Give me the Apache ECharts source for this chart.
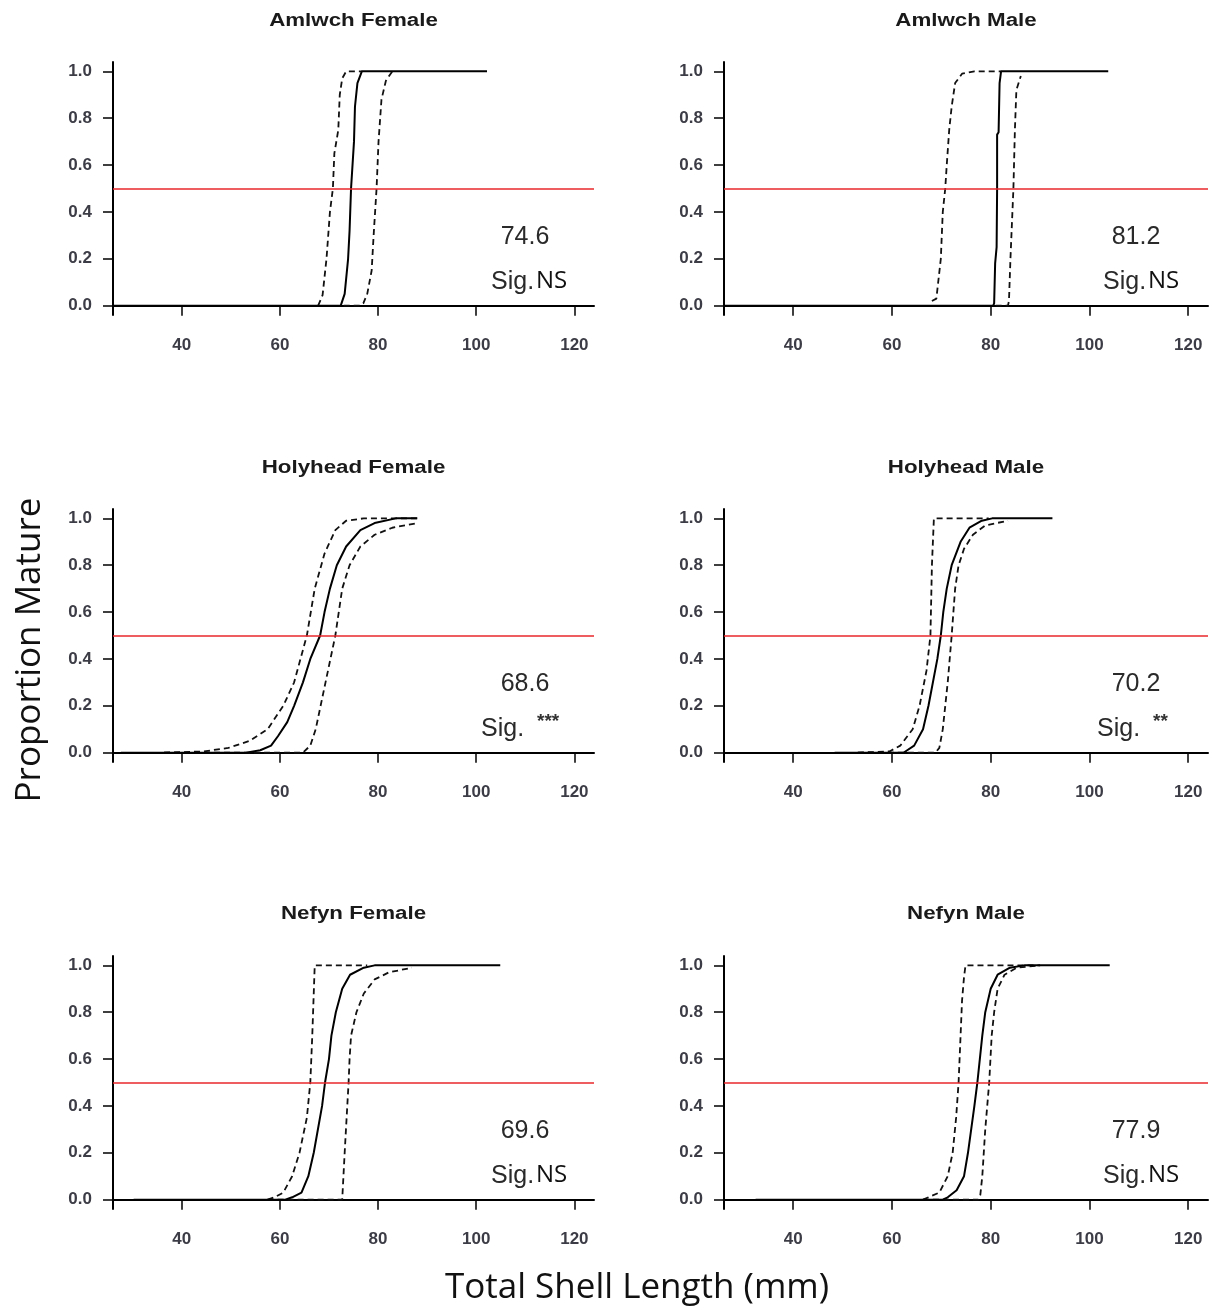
<!DOCTYPE html>
<html>
<head>
<meta charset="utf-8">
<script src="https://cdn.jsdelivr.net/npm/echarts@6/dist/echarts.min.js"></script>
<style>
html,body{margin:0;padding:0;background:#fff;}
#chart{width:1212px;height:1311px;}
</style>
</head>
<body>
<div id="chart"></div>
<script>
// ---- Data ----
const panelTitles = ['Amlwch Female', 'Amlwch Male', 'Holyhead Female', 'Holyhead Male', 'Nefyn Female', 'Nefyn Male'];
const l50Values = ['74.6', '81.2', '68.6', '70.2', '69.6', '77.9'];
const sigLabels = ['NS', 'NS', '***', '**', 'NS', 'NS'];
const xTickValues = [40, 60, 80, 100, 120];
const yTickValues = [0, 0.2, 0.4, 0.6, 0.8, 1.0];

// [length, proportion] pairs: fitted curve (fit), lower CI (lo), upper CI (hi)
const amlwchFemaleFit = [[26,0],[72.4,0],[73.2,0.05],[73.9,0.2],[74.2,0.32],[74.5,0.5],[75.1,0.7],[75.3,0.85],[75.8,0.95],[76.7,1],[102.2,1]];
const amlwchFemaleLo  = [[67.8,0],[68.7,0.045],[69.5,0.2],[70.2,0.4],[70.8,0.5],[71.1,0.65],[71.9,0.75],[72.2,0.9],[72.7,0.97],[73.5,1],[76.7,1]];
const amlwchFemaleHi  = [[73,0],[76.4,0],[77,0.01],[77.8,0.05],[78.7,0.15],[79.1,0.3],[79.7,0.5],[80.1,0.7],[80.7,0.88],[81.6,0.96],[82.9,1]];

const amlwchMaleFit = [[26,0],[80.5,0],[80.7,0.01],[80.9,0.18],[81.2,0.25],[81.3,0.5],[81.3,0.73],[81.6,0.74],[81.8,0.95],[82.1,1],[103.8,1]];
const amlwchMaleLo  = [[68.1,0.02],[69.0,0.03],[69.9,0.2],[70.3,0.4],[70.8,0.5],[71.1,0.6],[71.6,0.75],[72.1,0.85],[72.8,0.95],[74.2,0.99],[76.7,1],[82.1,1]];
const amlwchMaleHi  = [[81,0],[83.5,0],[83.7,0.02],[84.0,0.2],[84.6,0.5],[84.9,0.75],[85.2,0.92],[86.1,0.98]];

const holyheadFemaleFit = [[27.6,0],[53.1,0],[56.0,0.01],[58.2,0.03],[59.6,0.07],[61.5,0.13],[62.9,0.2],[64.7,0.3],[66.2,0.4],[68.2,0.5],[69.1,0.6],[70.2,0.7],[71.6,0.8],[73.5,0.88],[76.4,0.95],[79.3,0.98],[83.6,1],[88.0,1]];
const holyheadFemaleLo  = [[36.4,0],[44.4,0.005],[49.5,0.02],[53.8,0.05],[57.5,0.1],[60.7,0.2],[62.9,0.3],[65.5,0.5],[67.1,0.7],[69.1,0.85],[71.3,0.95],[73.5,0.99],[77.1,1],[88.0,1]];
const holyheadFemaleHi  = [[36.4,0],[64.7,0],[66.2,0.03],[67.3,0.1],[69.3,0.3],[71.3,0.5],[72.7,0.7],[74.2,0.8],[76.4,0.88],[79.3,0.93],[82.9,0.96],[88.0,0.98]];

const holyheadMaleFit = [[48.4,0],[62.4,0],[63.1,0.01],[64.5,0.03],[66.3,0.1],[67.4,0.2],[69.2,0.4],[69.9,0.5],[70.4,0.6],[71.1,0.7],[72.1,0.8],[73.9,0.9],[75.7,0.96],[78.2,0.99],[80.3,1],[92.5,1]];
const holyheadMaleLo  = [[53.1,0],[59.5,0.005],[61.7,0.03],[64.2,0.1],[65.6,0.2],[67.0,0.35],[67.8,0.5],[68.1,0.8],[68.5,1],[79.6,1]];
const holyheadMaleHi  = [[53.1,0],[68.8,0],[69.6,0.02],[70.3,0.1],[71.3,0.3],[72.1,0.5],[72.8,0.7],[73.5,0.8],[74.6,0.87],[76.4,0.93],[78.9,0.97],[83.5,0.99]];

const nefynFemaleFit = [[30.2,0],[61.1,0],[62.5,0.01],[64.4,0.03],[65.8,0.1],[66.9,0.2],[68.6,0.4],[69.2,0.5],[70.0,0.6],[70.5,0.7],[71.4,0.8],[72.7,0.9],[74.3,0.96],[77.1,0.99],[79.3,1],[104.9,1]];
const nefynFemaleLo  = [[57.5,0],[58.9,0.01],[60.7,0.03],[62.5,0.1],[64.0,0.2],[65.5,0.35],[66.2,0.5],[66.6,0.7],[67.1,1],[77.8,1]];
const nefynFemaleHi  = [[57.5,0],[72.7,0],[73.2,0.2],[74.0,0.5],[74.2,0.6],[74.5,0.7],[75.6,0.8],[77.1,0.88],[79.3,0.94],[82.2,0.97],[86.9,0.99]];

const nefynMaleFit = [[32.4,0],[70.3,0],[71.3,0.01],[73.1,0.04],[74.6,0.1],[75.4,0.2],[76.7,0.4],[77.3,0.5],[77.8,0.6],[78.3,0.7],[78.9,0.8],[80.0,0.9],[81.4,0.96],[83.9,0.99],[86.8,1],[104.1,1]];
const nefynMaleLo  = [[66.3,0],[67.4,0.01],[69.6,0.03],[71.3,0.1],[72.3,0.2],[73.0,0.35],[73.5,0.5],[73.9,0.7],[74.2,0.85],[74.6,0.95],[74.9,1],[90.0,1]];
const nefynMaleHi  = [[66.3,0],[77.5,0],[77.9,0.02],[78.3,0.1],[78.9,0.3],[79.7,0.5],[80.2,0.7],[80.7,0.8],[81.4,0.9],[82.8,0.96],[85.3,0.99],[90.0,1]];

const panelCurves = [
  [amlwchFemaleFit, amlwchFemaleLo, amlwchFemaleHi],
  [amlwchMaleFit, amlwchMaleLo, amlwchMaleHi],
  [holyheadFemaleFit, holyheadFemaleLo, holyheadFemaleHi],
  [holyheadMaleFit, holyheadMaleLo, holyheadMaleHi],
  [nefynFemaleFit, nefynFemaleLo, nefynFemaleHi],
  [nefynMaleFit, nefynMaleLo, nefynMaleHi]
];

// ---- Layout ----
const colLeft = [113, 724];
const colWidth = [481, 484];
const rowTop = [62, 509, 956];
const gridH = 253;
const titleCY = [21, 468, 914];

const grids = [], xAxes = [], yAxes = [], series = [], graphics = [];
const axisFont = { fontFamily: 'Liberation Sans, Arial, sans-serif', fontSize: 17, fontWeight: 'bold', color: '#3c3c46' };

for (let i = 0; i < 6; i++) {
  const c = i % 2, r = Math.floor(i / 2);
  grids.push({ left: colLeft[c], top: rowTop[r], width: colWidth[c], height: gridH, containLabel: false });
  xAxes.push({
    type: 'value', gridIndex: i, min: 26, max: 124,
    axisLine: { show: true, lineStyle: { color: '#000', width: 2 } },
    axisTick: { show: true, length: 10, lineStyle: { color: '#000', width: 1.5 }, customValues: xTickValues },
    axisLabel: Object.assign({ margin: 22, customValues: xTickValues }, axisFont),
    splitLine: { show: false }
  });
  yAxes.push({
    type: 'value', gridIndex: i, min: -0.04, max: 1.04,
    axisLine: { show: true, lineStyle: { color: '#000', width: 2 } },
    axisTick: { show: true, length: 10, lineStyle: { color: '#000', width: 1.5 }, customValues: yTickValues },
    axisLabel: Object.assign({ margin: 21, customValues: yTickValues, formatter: v => v.toFixed(1) }, axisFont),
    splitLine: { show: false }
  });
  const [fit, lo, hi] = panelCurves[i];
  series.push({
    type: 'line', xAxisIndex: i, yAxisIndex: i, data: fit, showSymbol: false, silent: true,
    lineStyle: { color: '#000', width: 2 }, z: 3,
    markLine: { silent: true, symbol: 'none', label: { show: false },
      lineStyle: { color: '#e8282b', width: 1.6, type: 'solid' }, data: [{ yAxis: 0.5 }] }
  });
  [lo, hi].forEach(d => series.push({
    type: 'line', xAxisIndex: i, yAxisIndex: i, data: d, showSymbol: false, silent: true,
    lineStyle: { color: '#111', width: 1.8, type: [6, 4] }, z: 2
  }));

  const cx = colLeft[c] + colWidth[c] / 2;
  graphics.push({ type: 'text', x: cx, y: titleCY[r], scaleX: 1.24, scaleY: 1,
    style: { text: panelTitles[i], font: 'bold 18px "Liberation Sans", Arial, sans-serif', fill: '#1a1a1a',
      textAlign: 'center', textVerticalAlign: 'middle' } });

  const ax = c === 0 ? 525 : 1136;
  const valY = rowTop[r] + 175;
  graphics.push({ type: 'text', x: ax, y: valY,
    style: { text: l50Values[i], font: '25px "Liberation Sans", Arial, sans-serif', fill: '#2a2a2a',
      textAlign: 'center', textVerticalAlign: 'middle' } });
  const sigX = c === 0 ? (sigLabels[i] === '***' ? 481 : 491) : (sigLabels[i] === '**' ? 1097 : 1103);
  const sigY = rowTop[r] + 220;
  graphics.push({ type: 'text', x: sigX, y: sigY,
    style: { text: 'Sig.', font: '25px "Liberation Sans", Arial, sans-serif', fill: '#2a2a2a',
      textAlign: 'left', textVerticalAlign: 'middle' } });
  if (sigLabels[i] === 'NS') {
    graphics.push({ type: 'text', x: sigX + 45, y: sigY - 1,
      style: { text: 'NS', font: '24px "Open Sans", sans-serif', fill: '#111',
        textAlign: 'left', textVerticalAlign: 'middle' } });
  } else {
    graphics.push({ type: 'text', x: sigX + 56, y: sigY - 7,
      style: { text: sigLabels[i], font: 'bold 19px "Liberation Sans", Arial, sans-serif', fill: '#333',
        textAlign: 'left', textVerticalAlign: 'middle' } });
  }
}

graphics.push({ type: 'text', x: 30, y: 650, rotation: Math.PI / 2,
  style: { text: 'Proportion Mature', font: '35px "Open Sans", sans-serif', fill: '#111', textAlign: 'center', textVerticalAlign: 'middle' } });
graphics.push({ type: 'text', x: 637, y: 1288,
  style: { text: 'Total Shell Length (mm)', font: '35px "Open Sans", sans-serif', fill: '#111', textAlign: 'center', textVerticalAlign: 'middle' } });

const chart = echarts.init(document.getElementById('chart'), null, { renderer: 'canvas' });
chart.setOption({
  backgroundColor: '#fff',
  animation: false,
  grid: grids,
  xAxis: xAxes,
  yAxis: yAxes,
  series: series,
  graphic: graphics
});
</script>
</body>
</html>
